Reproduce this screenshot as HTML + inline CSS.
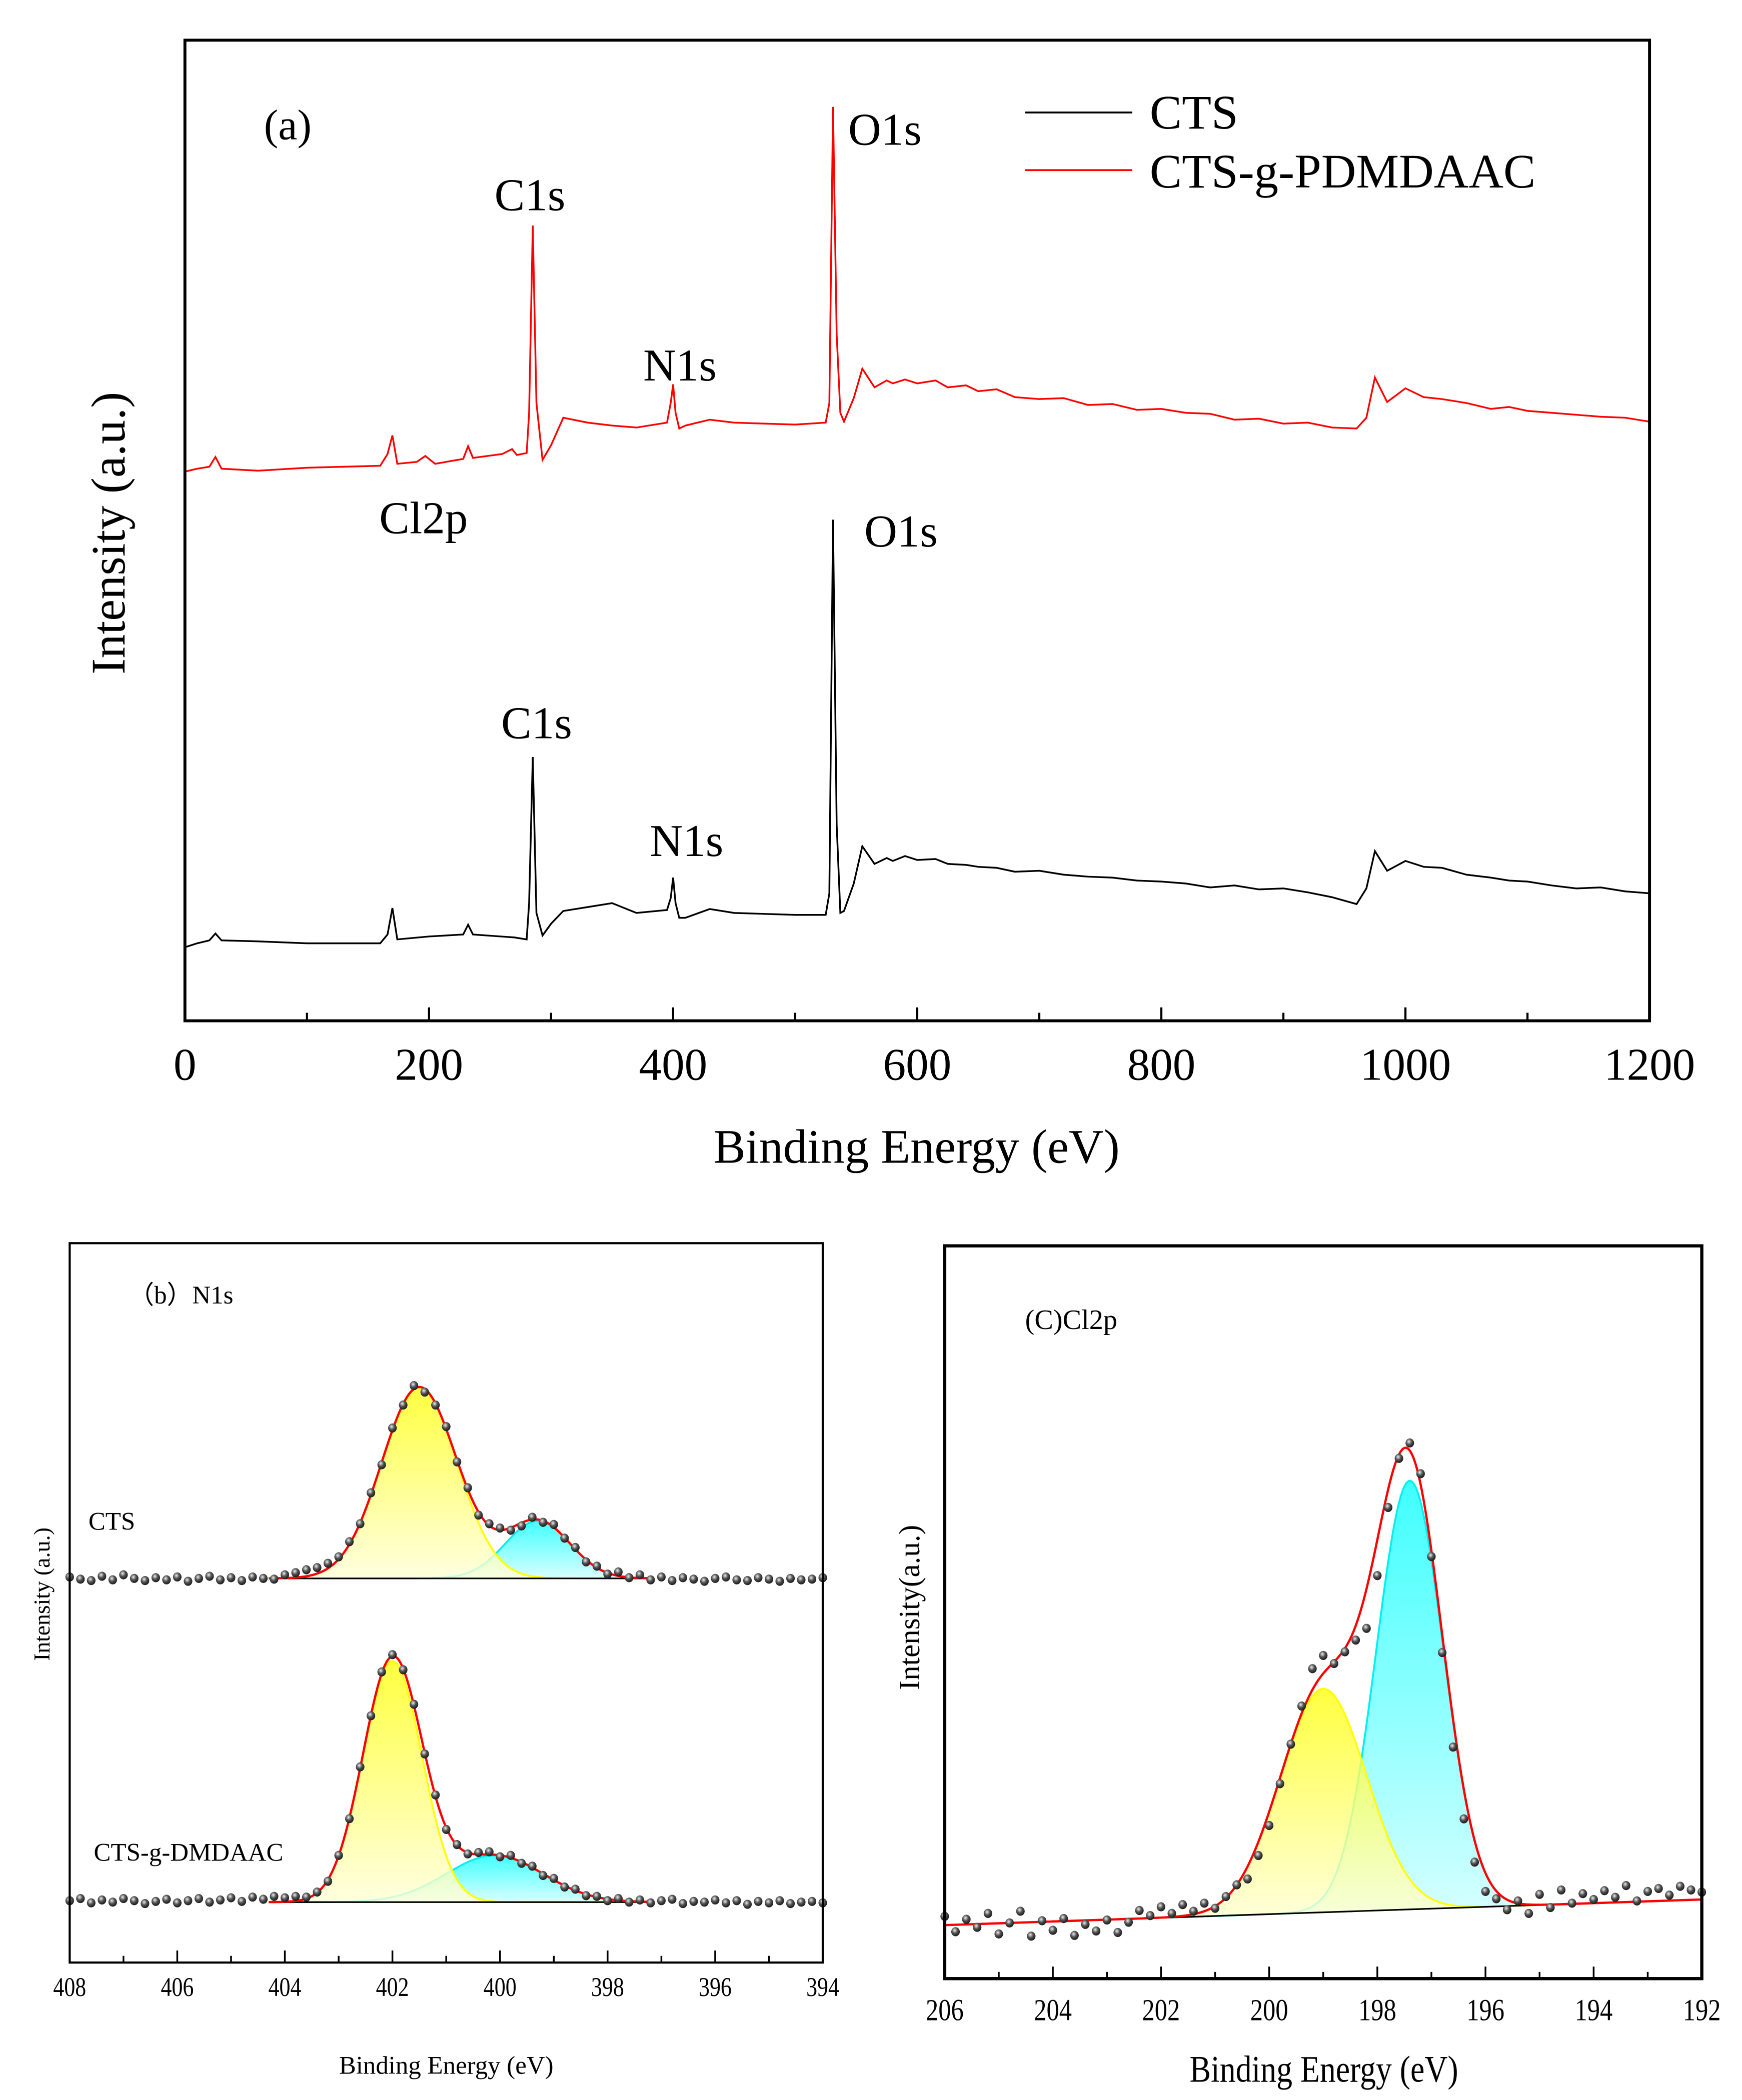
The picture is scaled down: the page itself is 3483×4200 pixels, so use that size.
<!DOCTYPE html>
<html><head><meta charset="utf-8"><style>
html,body{margin:0;padding:0;background:#fff;}
svg{display:block;}
text{font-family:"Liberation Serif",serif;fill:#000;}
</style></head><body>
<svg id="fig" width="3483" height="4200" viewBox="0 0 1300 1567.6" preserveAspectRatio="none" xmlns="http://www.w3.org/2000/svg">
<defs>
<radialGradient id="dotg" cx="0.4" cy="0.35" r="0.7"><stop offset="0" stop-color="#eee"/><stop offset="0.45" stop-color="#555"/><stop offset="1" stop-color="#111"/></radialGradient>
<linearGradient id="yg" x1="0" y1="0" x2="0" y2="1"><stop offset="0" stop-color="#ffff10"/><stop offset="1" stop-color="#ffffd8"/></linearGradient>
<linearGradient id="cg" x1="0" y1="0" x2="0" y2="1"><stop offset="0" stop-color="#10ffff"/><stop offset="1" stop-color="#d0ffff"/></linearGradient>
</defs>
<g id="pa"></g>
<g id="pb"></g>
<g id="pc"></g>
</svg>
<script>
// ---------- Panel (a) data ----------
const surveyRedE = [0,10,20,25,30,60,100,160,166,170,174,190,197,205,228,232,236,260,268,272,280,282,285,288,293,300,310,330,350,370,395,398,400,402,405,410,430,450,475,500,525,528,531,534,537,540,548,555,565,575,580,590,600,615,625,640,650,665,680,700,720,740,760,780,800,820,840,860,880,900,920,940,960,968,975,985,1000,1015,1030,1050,1070,1085,1100,1120,1140,1160,1180,1200];
const surveyRedI = [56.0,56.3,56.5,57.5,56.3,56.1,56.4,56.6,57.8,59.7,56.8,57.0,57.6,56.8,57.3,58.6,57.4,57.8,58.3,57.7,57.9,62,81.1,63,57.2,58.7,61.5,61.0,60.7,60.5,61.0,63,64.9,62,60.4,60.7,61.3,61.0,60.9,60.8,61.0,63,93.2,70,62.0,61.1,63.5,66.5,64.6,65.3,65.0,65.4,65.0,65.3,64.6,64.8,64.2,64.4,63.6,63.4,63.5,62.8,62.9,62.3,62.4,62.0,61.9,61.3,61.4,60.9,61.0,60.5,60.4,61.5,65.6,63.1,64.5,63.6,63.4,63.0,62.4,62.6,62.2,62.0,61.8,61.6,61.5,61.1];
const surveyBlkE = [0,10,20,25,30,60,100,160,166,170,174,200,228,232,236,270,280,282,285,288,293,300,310,330,350,370,395,398,400,402,405,410,430,450,475,500,525,528,531,534,537,540,548,555,565,575,580,590,600,615,625,640,650,665,680,700,720,740,760,780,800,820,840,860,880,900,920,940,960,968,975,985,1000,1015,1030,1050,1070,1085,1100,1120,1140,1160,1180,1200];
const surveyBlkI = [7.5,7.9,8.2,8.9,8.2,8.1,7.9,7.9,8.8,11.5,8.3,8.6,8.8,9.8,8.8,8.5,8.3,12,26.9,11,8.7,9.9,11.2,11.6,12.0,11.0,11.3,12.5,14.6,12,10.5,10.5,11.4,11.0,10.9,10.8,10.8,13,51.1,20,11.0,11.2,14.0,17.8,16.0,16.6,16.3,16.8,16.4,16.5,16.0,15.9,15.7,15.6,15.2,15.3,14.9,14.7,14.6,14.3,14.2,14.0,13.6,13.8,13.4,13.5,13.1,12.6,11.9,13.5,17.3,15.3,16.3,15.7,15.6,14.9,14.6,14.3,14.2,13.8,13.5,13.6,13.2,13.0];
const surveyTicks = [0,200,400,600,800,1000,1200];

// ---------- Panel (b) data ----------
const n1sE = [408,407.8,407.6,407.4,407.2,407,406.8,406.6,406.4,406.2,406,405.8,405.6,405.4,405.2,405,404.8,404.6,404.4,404.2,404,403.8,403.6,403.4,403.2,403,402.8,402.6,402.4,402.2,402,401.8,401.6,401.4,401.2,401,400.8,400.6,400.4,400.2,400,399.8,399.6,399.4,399.2,399,398.8,398.6,398.4,398.2,398,397.8,397.6,397.4,397.2,397,396.8,396.6,396.4,396.2,396,395.8,395.6,395.4,395.2,395,394.8,394.6,394.4,394.2,394];
const ctsDots = [53.6,53.3,53.1,53.7,53.2,53.9,53.4,53.1,53.5,53.2,53.6,53.0,53.4,53.7,53.2,53.5,53.1,53.6,53.4,53.3,53.9,54.2,54.6,54.9,55.5,56.4,58.5,61.0,65.3,69.2,74.3,77.5,80.2,79.3,77.5,74.5,69.6,66.0,62.2,61.0,60.4,60.1,60.7,61.9,61.2,60.9,59.0,57.7,55.7,55.1,54.0,54.3,53.5,53.9,53.2,53.6,53.1,53.5,53.3,53.0,53.4,53.6,53.2,53.1,53.5,53.3,53.0,53.4,53.2,53.3,53.5];
const ctsBase = 53.4;
const ctsCenters = [401.5,399.3], ctsHeights = [26.6,8.0], ctsSigmas = [0.7,0.6];
const dmDots = [8.6,8.9,8.3,8.7,8.4,8.9,8.6,8.2,8.5,8.8,8.3,8.6,8.9,8.4,8.7,9.0,8.5,9.1,8.8,9.2,9.0,9.2,9.1,9.8,11.3,14.9,20.0,27.2,34.3,40.4,42.8,40.7,35.9,29.0,23.3,18.5,16.4,15.1,15.3,15.4,14.7,14.9,13.8,13.4,12.1,11.7,10.5,10.2,9.3,9.2,8.6,8.9,8.4,8.7,8.3,8.6,8.8,8.2,8.5,8.4,8.7,8.3,8.6,8.1,8.5,8.3,8.6,8.2,8.4,8.5,8.3];
const dmBase = 8.4;
const dmCenters = [402.0,400.1], dmHeights = [33.5,6.5], dmSigmas = [0.55,0.9];
const n1sTicks = [408,406,404,402,400,398,396,394];

// ---------- Panel (c) data ----------
const clE = [206,205.8,205.6,205.4,205.2,205,204.8,204.6,204.4,204.2,204,203.8,203.6,203.4,203.2,203,202.8,202.6,202.4,202.2,202,201.8,201.6,201.4,201.2,201,200.8,200.6,200.4,200.2,200,199.8,199.6,199.4,199.2,199,198.8,198.6,198.4,198.2,198,197.8,197.6,197.4,197.2,197,196.8,196.6,196.4,196.2,196,195.8,195.6,195.4,195.2,195,194.8,194.6,194.4,194.2,194,193.8,193.6,193.4,193.2,193,192.8,192.6,192.4,192.2,192];
const clDots = [8.5,6.4,8.1,7.0,8.9,6.1,7.6,9.2,5.8,7.9,6.6,8.2,5.9,7.4,6.5,8.0,6.3,7.7,9.3,8.6,9.8,8.9,10.1,9.2,10.3,9.6,11.2,12.8,13.6,16.8,20.9,26.6,32.0,37.2,42.3,44.1,43.0,44.6,46.2,47.8,55.0,64.3,71.0,73.1,68.9,57.6,44.5,31.6,21.8,15.9,11.9,10.9,9.4,10.6,8.9,11.5,9.7,12.1,10.3,11.6,10.8,12.0,11.1,12.7,10.6,11.9,12.3,11.4,12.6,12.1,11.8];
const clBaseLeft = 7.3, clBaseRight = 10.8;
const clCenters = [199.0,197.4], clHeights = [30.5,58.5], clSigmas = [0.8,0.62];
const clTicks = [206,204,202,200,198,196,194,192];

// ---------- helpers ----------
const NS = 'http://www.w3.org/2000/svg';
function mk(tag, attrs, parent){ const e=document.createElementNS(NS,tag); for(const k in attrs) e.setAttribute(k,attrs[k]); parent.appendChild(e); return e; }
function txt(parent, s, x, y, size, anchor, extra){ const t=mk('text',Object.assign({x:x,y:y,'font-size':size,'text-anchor':anchor||'start'},extra||{}),parent); t.textContent=s; return t; }
function lin(d0,d1,r0,r1){ return v=>r0+(v-d0)*(r1-r0)/(d1-d0); }
function gauss(x,c,h,s){ return h*Math.exp(-(x-c)*(x-c)/(2*s*s)); }
function pathOf(xs,ys,sx,sy){ return xs.map((v,i)=>(i?'L':'M')+sx(v).toFixed(2)+','+sy(ys[i]).toFixed(2)).join(''); }

// ---------- Panel (a) ----------
(function(){
  const g=document.getElementById('pa');
  const L=138,R=1231,T=30,B=762;
  const sx=lin(0,1200,L,R), sy=lin(0,100,B,T);
  let e;
  e=mk('path',{d:pathOf(surveyBlkE,surveyBlkI,sx,sy),fill:'none',stroke:'#000','stroke-width':1.3},g);
   
  e=mk('path',{d:pathOf(surveyRedE,surveyRedI,sx,sy),fill:'none',stroke:'#f00','stroke-width':1.3},g);
   
  e=mk('rect',{x:L,y:T,width:R-L,height:B-T,fill:'none',stroke:'#000','stroke-width':2.2},g);
   
  for(let v=0; v<=1200; v+=100){
    const major=v%200===0;
    e=mk('line',{x1:sx(v),x2:sx(v),y1:B,y2:B-(major?10:6),stroke:'#000','stroke-width':1.6},g);
     
  }
  surveyTicks.forEach(v=>{ e=txt(g,String(v),sx(v),806,34,'middle');   });
  e=txt(g,'Binding Energy (eV)',684,868,36,'middle');  
  e=txt(g,'Intensity (a.u.)',0,0,36,'middle',{transform:'translate(93,398) rotate(-90)'});  
  const anns=[['(a)',197,104,32],['O1s',633,108,34],['C1s',369,157,34],['N1s',480,284,34],['Cl2p',283,398,34],['O1s',645,408,34],['C1s',374,551,34],['N1s',485,639,34]];
  anns.forEach(a=>{ e=txt(g,a[0],a[1],a[2],a[3]);   });
  e=mk('line',{x1:765,x2:845,y1:84,y2:84,stroke:'#000','stroke-width':1.4},g);
   
  e=mk('line',{x1:765,x2:845,y1:127,y2:127,stroke:'#f00','stroke-width':1.4},g);
   
  e=txt(g,'CTS',858,96,36);  
  e=txt(g,'CTS-g-PDMDAAC',858,140,36);  
})();

// ---------- fit drawing ----------
function drawFit(g,sx,sy,x0,x1,baseFn,centers,heights,sigmas,dotsE,dotsI,prefix){
  const fills=['url(#yg)','url(#cg)'], strokes=['#ffff00','#00f0f0'];
  const xs=[]; for(let i=0;i<=400;i++) xs.push(x0+(x1-x0)*i/400);
  let e;
  const order=[1,0];
  order.forEach(k=>{
    const c=centers[k];
    const top=xs.map(x=>baseFn(x)+gauss(x,c,heights[k],sigmas[k]));
    let d=pathOf(xs,top,sx,sy);
    for(let i=xs.length-1;i>=0;i--) d+='L'+sx(xs[i]).toFixed(2)+','+sy(baseFn(xs[i])).toFixed(2);
    e=mk('path',{d:d+'Z',fill:fills[k],'fill-opacity':0.8,stroke:'none'},g);
     
    e=mk('path',{d:pathOf(xs,top,sx,sy),fill:'none',stroke:strokes[k],'stroke-width':1.4},g);
     
  });
  e=mk('path',{d:pathOf(xs,xs.map(baseFn),sx,sy),fill:'none',stroke:'#000','stroke-width':1.2},g);
   
  const sum=xs.map(x=>baseFn(x)+centers.reduce((a,c,k)=>a+gauss(x,c,heights[k],sigmas[k]),0));
  e=mk('path',{d:pathOf(xs,sum,sx,sy),fill:'none',stroke:'#f00','stroke-width':1.7},g);
   
  dotsE.forEach((x,i)=>{
    e=mk('ellipse',{cx:sx(x),cy:sy(dotsI[i]),rx:3.2,ry:3.4,fill:'url(#dotg)'},g);
     
  });
}
function frameTicks(g,L,R,T,B,d0,d1,ticks,labY,labSize,sx,sw){
  let e=mk('rect',{x:L,y:T,width:R-L,height:B-T,fill:'none',stroke:'#000','stroke-width':sw},g);
   
  const step=(d0>d1)?-1:1;
  for(let v=d0; step>0?v<=d1:v>=d1; v+=step){
    const major=Math.abs(v)%2===0;
    e=mk('line',{x1:sx(v),x2:sx(v),y1:B,y2:B-(major?9:5),stroke:'#000','stroke-width':1.3},g);
     
  }
  ticks.forEach(v=>{ e=txt(g,String(v),sx(v),labY,labSize,'middle',{transform:'translate('+sx(v)+',0) scale(0.82,1) translate('+(-sx(v))+',0)'});   });
}

// ---------- Panel (b) ----------
(function(){
  const g=document.getElementById('pb');
  const L=52,R=614,T=928,B=1465;
  const sx=lin(408,394,L,R), sy=lin(0,100,B,T);
  drawFit(g,sx,sy,404.3,397.2,x=>ctsBase,ctsCenters,ctsHeights,ctsSigmas,n1sE,ctsDots,'cts-n1s');
  drawFit(g,sx,sy,404.3,397.2,x=>dmBase,dmCenters,dmHeights,dmSigmas,n1sE,dmDots,'cts-g-dmdaac-n1s');
  frameTicks(g,L,R,T,B,408,394,n1sTicks,1490,20,sx,1.6);
  let e;
  e=txt(g,'Binding Energy (eV)',333,1548,19,'middle');  
  e=txt(g,'Intensity (a.u.)',0,0,17,'middle',{transform:'translate(37,1190) rotate(-90)'});  
  e=txt(g,'（b）N1s',96,973,19,'start',{'font-family':'"Liberation Serif","Noto Serif CJK SC",serif'});  
  e=txt(g,'CTS',66,1142,19);  
  e=txt(g,'CTS-g-DMDAAC',70,1389,19);  
})();

// ---------- Panel (c) ----------
(function(){
  const g=document.getElementById('pc');
  const L=705,R=1270,T=930,B=1477;
  const sx=lin(206,192,L,R), sy=lin(0,100,B,T);
  const base=x=>clBaseLeft+(206-x)*(clBaseRight-clBaseLeft)/14;
  drawFit(g,sx,sy,206,192,base,clCenters,clHeights,clSigmas,clE,clDots,'cl2p');
  frameTicks(g,L,R,T,B,206,192,clTicks,1508,23,sx,2.4);
  let e;
  e=txt(g,'Binding Energy (eV)',988,1554,28,'middle',{transform:'translate(988,0) scale(0.85,1) translate(-988,0)'});  
  e=txt(g,'Intensity(a.u.)',0,0,22,'middle',{transform:'translate(686,1200) rotate(-90)'});  
  e=txt(g,'(C)Cl2p',765,992,21);  
})();
</script>
</body></html>
